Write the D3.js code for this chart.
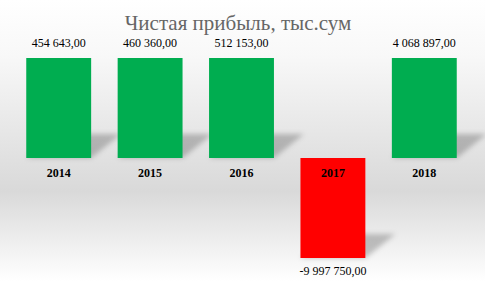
<!DOCTYPE html>
<html>
<head>
<meta charset="utf-8">
<script src="https://cdn.jsdelivr.net/npm/d3@7"></script>
<style>
  html, body { margin: 0; padding: 0; background: #fff; }
  svg { display: block; }
</style>
</head>
<body>
<svg id="chart" width="485" height="281"></svg>
<script>
const years = ['2014', '2015', '2016', '2017', '2018'];
const profit = [454643, 460360, 512153, -9997750, 4068897];
const labels = ['454 643,00', '460 360,00', '512 153,00', '-9 997 750,00', '4 068 897,00'];
const titleText = 'Чистая прибыль, тыс.сум';

const W = 485, H = 281;
const svg = d3.select('#chart');
const defs = svg.append('defs');

// background: white -> grey band -> white
const bg = defs.append('linearGradient')
  .attr('id', 'bg').attr('x1', 0).attr('y1', 0).attr('x2', 0).attr('y2', 1);
bg.append('stop').attr('offset', '0%').attr('stop-color', '#ffffff');
bg.append('stop').attr('offset', '20%').attr('stop-color', '#f8f8f8');
bg.append('stop').attr('offset', '68%').attr('stop-color', '#d9d9d9');
bg.append('stop').attr('offset', '100%').attr('stop-color', '#ffffff');

defs.append('filter').attr('id', 'blur')
  .attr('x', '-30%').attr('y', '-30%').attr('width', '160%').attr('height', '160%')
  .append('feGaussianBlur').attr('stdDeviation', 2.5);

svg.append('rect').attr('width', W).attr('height', H).attr('fill', 'url(#bg)');

// value axis is fixed narrower than the data, so bars are clipped
const x = d3.scaleBand()
  .domain(years)
  .range([13, 470])
  .paddingInner(0.29)
  .paddingOuter(0.145);

const y = d3.scaleLinear()
  .domain([-400000, 400000])
  .range([258, 58])
  .clamp(true);

const g = svg.append('g');

// perspective shadows
g.selectAll('polygon.shadow')
  .data(years)
  .enter()
  .append('polygon')
  .attr('class', 'shadow')
  .attr('fill', 'rgba(0,0,0,0.22)')
  .attr('filter', 'url(#blur)')
  .attr('points', (d, i) => {
    const x0 = x(d), x1 = x(d) + x.bandwidth();
    const yb = Math.max(y(profit[i]), y(0));
    return [[x0, yb], [x1, yb], [x1 + 30, yb - 24], [x0 + 30, yb - 24]].join(' ');
  });

g.selectAll('rect.bar')
  .data(years)
  .enter()
  .append('rect')
  .attr('class', 'bar')
  .attr('x', d => x(d))
  .attr('width', x.bandwidth())
  .attr('y', (d, i) => Math.min(y(profit[i]), y(0)))
  .attr('height', (d, i) => Math.abs(y(profit[i]) - y(0)))
  .attr('fill', (d, i) => profit[i] < 0 ? '#ff0000' : '#00ad50');

// category labels
g.selectAll('text.year')
  .data(years)
  .enter()
  .append('text')
  .attr('class', 'year')
  .attr('x', d => x(d) + x.bandwidth() / 2)
  .attr('y', y(0) + 19)
  .attr('text-anchor', 'middle')
  .attr('font-family', '"Liberation Serif", "Times New Roman", serif')
  .attr('font-size', 12)
  .attr('font-weight', 'bold')
  .attr('fill', '#000')
  .text(d => d);

// value labels
g.selectAll('text.val')
  .data(years)
  .enter()
  .append('text')
  .attr('class', 'val')
  .attr('x', d => x(d) + x.bandwidth() / 2)
  .attr('y', (d, i) => profit[i] < 0 ? y(profit[i]) + 17 : y(profit[i]) - 11)
  .attr('text-anchor', 'middle')
  .attr('font-family', '"Liberation Serif", "Times New Roman", serif')
  .attr('font-size', 12)
  .attr('fill', '#000')
  .text((d, i) => labels[i]);

svg.append('text')
  .attr('x', 238)
  .attr('y', 30)
  .attr('text-anchor', 'middle')
  .attr('font-family', '"Liberation Serif", "Times New Roman", serif')
  .attr('font-size', 21)
  .attr('fill', '#666')
  .text(titleText);
</script>
</body>
</html>
